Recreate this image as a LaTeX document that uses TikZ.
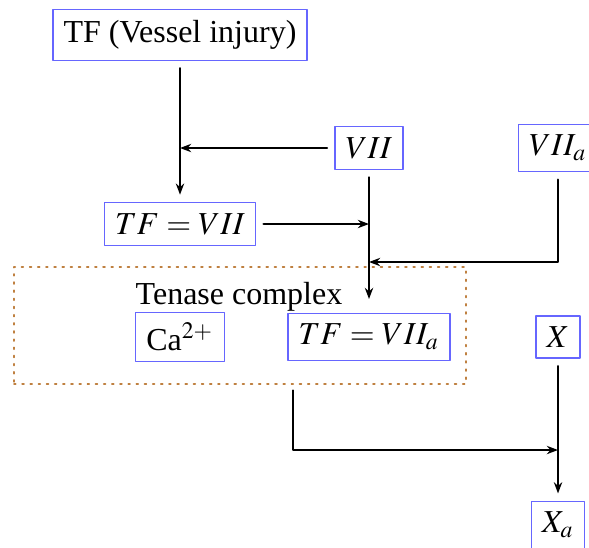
\documentclass[tikz,border=0pt]{standalone}
\usepackage{mathptmx}
\usepackage{fontspec}
\setmainfont{Liberation Serif}
\usetikzlibrary{arrows.meta}
\usetikzlibrary{positioning}

\tikzset{
  factor/.style={draw=blue!60, inner sep=0.3333em, outer sep=2.5pt},
  flow/.style={line width=0.7pt, -{Stealth[length=3.5pt,width=2.6pt]}},
  complexbox/.style={draw=brown, line width=0.55pt, dotted, minimum width=141.25pt, minimum height=36.6pt, outer sep=2pt}
}

\begin{document}
\begin{tikzpicture}[line cap=round,line join=round,x=0.3125pt,y=-0.3125pt]
\useasboundingbox (0,0) rectangle (589,547);
% factors
\node[factor] (tf) at (180,35) {TF (Vessel injury)};
\node[factor] (vii) at (369,148) {$VII$};
\node[factor] (viia) at (558,148) {$VII_a$};
\node[factor] (tfvii) at (180,224) {$TF=VII$};
% tenase complex
\node[complexbox] (tenase) at (240,325.5) {};
\node (tenaselabel) at (239,297) {Tenase complex};
\node[factor] (ca) at (180,337) {Ca$^{2+}$};
\node[factor] (tfviia) at (369,337) {$TF=VII_a$};
\node[factor] (x) at (558,337) {$X$};
\node[factor] (xa) at (558,525) {$X_a$};
% junctions
\coordinate (j1) at (vii -| tf);
\coordinate (j2) at (tfvii -| vii);
\coordinate (j3) at (369,262);
\coordinate (j4) at (293,450);
\coordinate (j5) at (558,450);
% arrows
\draw [flow] (tf) -- (tfvii);
\draw [flow] (vii) -- (j1);
\draw [flow] (tfvii) -- (j2);
\draw [flow,shorten >=2pt] (vii) -- (tfviia);
\draw [flow] (viia) |- (j3);
\draw [flow] (tenase.south -| j4) -- (j4) -- (j5);
\draw [flow] (x) -- (xa);
\end{tikzpicture}
\end{document}
